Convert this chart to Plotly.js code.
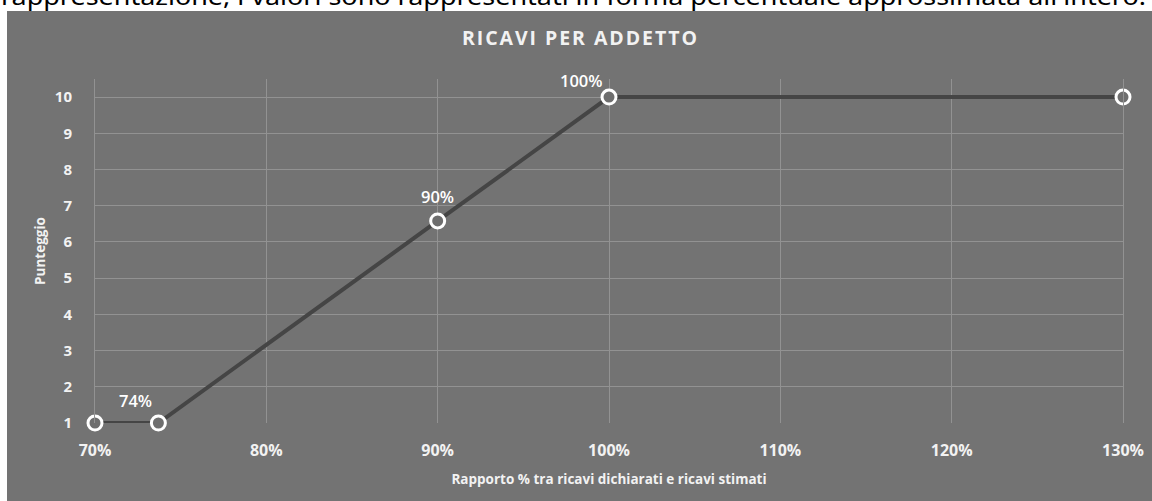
<!DOCTYPE html>
<html>
<head>
<meta charset="utf-8">
<script src="https://cdn.plot.ly/plotly-3.0.1.min.js"></script>
<style>
  html, body { margin: 0; padding: 0; background: #ffffff; width: 1152px; height: 501px; overflow: hidden; }
  #top { position: absolute; left: 0; top: 0; }
  #chart { position: absolute; left: 7px; top: 11px; width: 1145px; height: 490px; }
</style>
</head>
<body>
<svg id="top" width="1152" height="11">
  <text x="1" y="5" font-family="'Noto Sans', 'Open Sans', sans-serif" font-size="24" fill="#000000"
        textLength="1145" lengthAdjust="spacingAndGlyphs">rappresentazione, i valori sono rappresentati in forma percentuale approssimata all'intero.</text>
</svg>
<div id="chart"></div>
<script>
// Data
const ratioPct = [70, 73.7, 90, 100, 130];
const score = [1, 1, 6.58, 10, 10];
const labelIdx = [1, 2, 3];
const labelText = ['74%', '90%', '100%'];
const xTicks = [70, 80, 90, 100, 110, 120, 130];
const yTicks = [1, 2, 3, 4, 5, 6, 7, 8, 9, 10];
const chartTitle = 'RICAVI PER ADDETTO';

const labelShiftX = [-23, 0, -28];
const labelShiftY = [23, 24, 17];

const annotations = labelIdx.map((i, k) => ({
  x: ratioPct[i], y: score[i], xref: 'x', yref: 'y',
  text: labelText[k], showarrow: false,
  xshift: labelShiftX[k], yshift: labelShiftY[k],
  font: {family: "'Open Sans', sans-serif", size: 16.5, color: '#ffffff', weight: 600}
}));

const trace = {
  x: ratioPct, y: score, type: 'scatter', mode: 'lines+markers',
  line: {color: '#454545', width: 4},
  marker: {size: 14, color: '#6e6e6e', line: {color: '#ffffff', width: 3}},
  cliponaxis: false, hoverinfo: 'none'
};

const spaced = chartTitle.split('').join('\u200a');

const layout = {
  width: 1145, height: 490,
  paper_bgcolor: '#737373', plot_bgcolor: '#737373',
  margin: {l: 88, r: 29, t: 68, b: 78},
  showlegend: false,
  title: {
    text: spaced,
    x: 0.5, xanchor: 'center', y: 0.99, yanchor: 'top', yref: 'container',
    pad: {t: 15},
    font: {family: "'Open Sans', sans-serif", size: 19.5, color: '#f2f2f2', weight: 'bold'}
  },
  xaxis: {
    range: [70, 130], tickvals: xTicks, ticktext: xTicks.map(v => v + '%'),
    showgrid: true, gridcolor: '#929292', gridwidth: 1,
    zeroline: false, showline: false, ticks: '',
    tickfont: {family: "'Open Sans', sans-serif", size: 16, color: '#f2f2f2', weight: 'bold'},
    ticklabelstandoff: 16,
    title: {text: 'Rapporto % tra ricavi dichiarati e ricavi stimati', standoff: 14,
            font: {family: "'Open Sans', sans-serif", size: 13.5, color: '#f2f2f2', weight: 'bold'}}
  },
  yaxis: {
    range: [1, 10.5], tickvals: yTicks,
    showgrid: true, gridcolor: '#929292', gridwidth: 1,
    zeroline: false, showline: true, mirror: true, linecolor: '#929292', linewidth: 1, ticks: '',
    tickfont: {family: "'Open Sans', sans-serif", size: 15, color: '#f2f2f2', weight: 'bold'},
    ticklabelstandoff: 19,
    title: {text: 'Punteggio', standoff: 6,
            font: {family: "'Open Sans', sans-serif", size: 13.5, color: '#f2f2f2', weight: 'bold'}}
  },
  annotations: annotations
};

Plotly.newPlot('chart', [trace], layout, {displayModeBar: false, staticPlot: true});
</script>
</body>
</html>
